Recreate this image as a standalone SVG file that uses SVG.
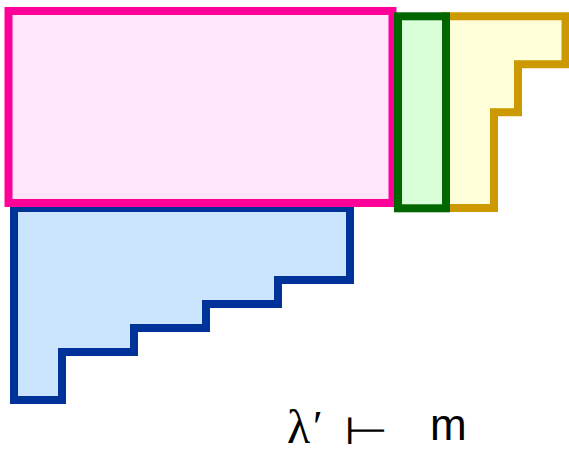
<svg xmlns="http://www.w3.org/2000/svg" width="569" height="457" viewBox="0 0 569 457">
<style>
.s{stroke-width:8;stroke-linejoin:miter}
.serif{font-family:"Liberation Serif","DejaVu Serif",serif;fill:#000}
.sans{font-family:"Liberation Sans","DejaVu Sans",sans-serif;fill:#000}
.sym{font-family:"DejaVu Sans",sans-serif;fill:#000}
</style>
<rect width="569" height="457" fill="#fff"/>
<g id="blue"><path class="s" d="M14,208 H350 V280 H278 V304 H206 V328 H134 V352 H62 V400 H14 Z" fill="#cce5ff" stroke="#003399"/></g>
<g id="pink"><rect class="s" x="8.5" y="11" width="384" height="192" fill="#ffe6fa" stroke="#ff0099"/></g>
<g id="yellow"><path class="s" d="M446,16.3 H565.5 V64.3 H518 V112.3 H494 V208 H446 Z" fill="#ffffd9" stroke="#cc9900"/></g>
<g id="green"><rect class="s" x="398" y="16.3" width="48" height="192" fill="#d9ffd9" stroke="#006600"/></g>
<g id="label">
<text class="serif" x="287" y="443" font-size="48">λ</text>
<text class="serif" x="313" y="441" font-size="44">′</text>
<text class="sym" transform="translate(344,444) scale(1.35,1)" font-size="38">⊢</text>
<text class="sans" x="430" y="440" font-size="44">m</text>
</g>
</svg>
